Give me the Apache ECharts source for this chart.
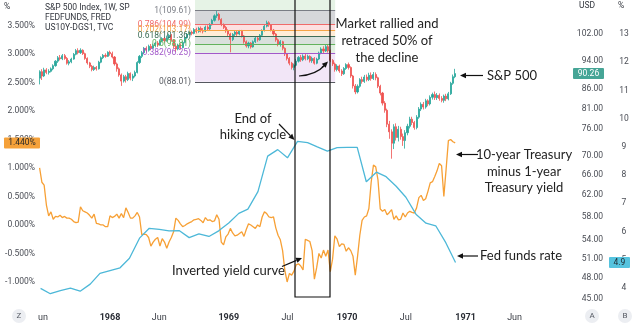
<!DOCTYPE html>
<html>
<head>
<meta charset="utf-8">
<script src="https://cdn.jsdelivr.net/npm/echarts@6/dist/echarts.min.js"></script>
<style>
  html, body { margin: 0; padding: 0; background: #fff; }
  #main { width: 640px; height: 323px; }
</style>
</head>
<body>
<div id="main"></div>
<script>
// ---- S&P 500 weekly candles [open, close, low, high], first week starting 1967-05-29 ----
const spxWeekStart = [1967, 4, 29];
const spxOHLC = [
  [89.0,90.8,87.3,91.2],[90.8,89.6,88.5,91.5],[89.6,91.3,89.3,91.9],[91.3,90.6,90.1,91.8],[90.6,90.9,90.0,91.5],
  [90.9,91.6,90.6,92.0],[91.6,92.5,91.2,92.9],[92.5,93.8,92.2,94.1],[93.8,94.8,93.3,95.3],[94.8,94.5,94.0,95.6],
  [94.5,95.4,94.1,95.9],[95.4,94.6,94.2,95.9],[94.6,93.2,92.8,95.0],[93.2,93.6,92.6,94.1],[93.6,94.4,93.2,94.8],
  [94.4,95.8,94.2,96.2],[95.8,96.9,95.5,97.4],[96.9,96.3,95.8,97.6],[96.3,97.0,95.9,97.6],[97.0,96.0,95.6,97.3],
  [96.0,94.6,94.2,96.3],[94.6,93.3,92.8,94.9],[93.3,92.3,91.8,93.6],[92.3,91.4,90.9,92.7],[91.4,92.0,91.0,92.5],
  [92.0,91.6,91.1,92.4],[91.6,93.5,91.4,93.9],[93.5,94.8,93.2,95.2],[94.8,95.5,94.4,95.9],[95.5,95.2,94.8,96.1],
  [95.2,96.4,95.0,96.7],[96.4,96.0,95.4,96.9],[96.0,95.0,94.6,96.6],[95.0,93.0,92.5,95.3],[93.0,91.6,90.8,93.4],
  [91.6,89.9,89.4,92.0],[89.9,88.2,86.9,90.3],[88.2,89.4,87.8,89.9],[89.4,88.6,87.8,89.9],[88.6,90.3,88.2,90.8],
  [90.3,89.0,88.4,90.6],[89.0,89.6,88.2,90.2],[89.6,90.6,89.2,91.1],[90.6,93.4,90.3,93.8],[93.4,95.2,93.0,95.6],
  [95.2,96.3,94.7,96.8],[96.3,97.6,95.9,98.0],[97.6,97.0,96.3,98.2],[97.0,98.2,96.6,98.7],[98.2,97.6,97.0,98.9],
  [97.6,98.4,97.3,99.0],[98.4,99.2,97.9,99.6],[99.2,98.6,98.0,99.8],[98.6,99.8,98.4,100.3],[99.8,100.6,99.4,101.0],
  [100.6,99.9,99.3,101.1],[99.9,100.9,99.6,101.5],[100.9,101.6,100.4,102.1],[101.6,100.1,99.6,102.0],[100.1,98.2,97.6,100.4],
  [98.2,97.4,96.5,98.7],[97.4,98.6,97.0,99.0],[98.6,97.8,97.2,99.1],[97.8,99.4,97.6,99.8],[99.4,100.8,99.1,101.2],
  [100.8,101.9,100.5,102.3],[101.9,102.6,101.5,103.0],[102.6,102.2,101.6,103.1],[102.2,103.4,101.9,103.9],[103.4,102.8,102.2,104.0],
  [102.8,103.8,102.4,104.3],[103.8,103.1,102.5,104.4],[103.1,102.9,102.2,103.9],[102.9,104.2,102.6,104.7],[104.2,103.6,103.0,104.8],
  [103.6,105.0,103.3,105.5],[105.0,106.4,104.7,106.9],[106.4,107.9,106.0,108.4],[107.9,108.4,107.2,109.6],[108.4,106.7,106.3,108.9],
  [106.7,105.0,104.5,107.1],[105.0,104.1,103.6,105.4],[104.1,103.0,102.4,104.6],[103.0,102.0,101.3,103.5],[102.0,100.3,96.4,102.4],
  [100.3,101.9,99.8,102.3],[101.9,102.6,101.2,103.1],[102.6,102.0,101.4,103.0],[102.0,102.9,101.6,103.3],[102.9,101.4,100.9,103.3],
  [101.4,99.6,99.0,101.7],[99.6,98.3,97.8,100.0],[98.3,99.2,97.6,99.6],[99.2,98.0,97.5,99.5],[98.0,99.6,97.8,100.0],
  [99.6,100.7,99.2,101.1],[100.7,100.2,99.6,101.2],[100.2,101.6,99.9,102.0],[101.6,103.1,101.2,103.5],[103.1,104.5,102.8,104.9],
  [104.5,105.6,104.1,106.3],[105.6,104.9,104.3,106.1],[104.9,103.2,102.8,105.2],[103.2,102.0,101.5,103.6],[102.0,100.2,99.6,102.3],
  [100.2,98.8,98.2,100.6],[98.8,99.6,98.1,100.1],[99.6,97.6,97.0,99.9],[97.6,95.9,95.3,97.9],[95.9,94.6,94.0,96.2],
  [94.6,93.2,92.6,95.0],[93.2,92.0,91.4,93.6],[92.0,92.6,91.2,93.1],[92.6,93.8,92.3,94.4],[93.8,94.9,93.4,95.3],
  [94.9,94.2,93.6,95.6],[94.2,95.3,93.8,95.8],[95.3,94.5,94.0,95.9],[94.5,95.2,94.1,95.7],[95.2,93.9,93.4,95.5],
  [93.9,94.6,93.3,95.1],[94.6,93.2,92.8,95.0],[93.2,94.4,92.9,94.8],[94.4,96.2,94.1,96.6],[96.2,97.4,95.8,97.9],
  [97.4,96.8,96.2,98.2],[96.8,98.1,96.5,98.8],[98.1,96.9,96.3,98.7],[96.9,94.0,93.5,97.2],[94.0,93.0,92.4,94.4],
  [93.0,91.4,90.8,93.4],[91.4,92.4,90.9,92.9],[92.4,91.0,90.5,92.8],[91.0,90.2,89.6,91.5],[90.2,91.7,89.9,92.1],
  [91.7,92.8,91.3,93.2],[92.8,92.0,91.4,93.4],[92.0,89.6,89.1,92.3],[89.6,86.9,86.2,89.9],[86.9,85.3,84.7,87.4],
  [85.3,86.8,84.9,87.3],[86.8,88.6,86.4,89.0],[88.6,88.1,87.5,89.4],[88.1,89.3,87.7,89.9],[89.3,88.6,88.1,90.0],
  [88.6,89.8,88.2,90.5],[89.8,88.9,88.3,90.6],[88.9,90.0,88.5,90.7],[90.0,89.1,88.4,90.6],[89.1,86.8,86.3,89.4],
  [86.8,85.0,84.4,87.2],[85.0,82.4,81.8,85.3],[82.4,80.6,80.0,82.9],[80.6,77.2,76.5,81.0],[77.2,75.4,73.8,78.0],
  [75.4,72.8,69.4,76.0],[72.8,76.6,71.5,77.2],[76.6,74.1,73.4,77.4],[74.1,76.0,73.2,76.8],[76.0,74.3,73.6,76.6],
  [74.3,73.4,72.2,75.0],[73.4,75.2,71.6,75.8],[75.2,76.7,74.6,77.3],[76.7,78.4,76.2,79.0],[78.4,77.6,77.0,79.0],
  [77.6,76.4,75.9,78.0],[76.4,78.9,76.0,79.4],[78.9,80.9,78.5,81.4],[80.9,82.1,80.4,82.6],[82.1,81.4,80.8,82.7],
  [81.4,83.0,81.0,83.5],[83.0,82.2,81.6,83.4],[82.2,83.9,81.8,84.4],[83.9,84.6,83.3,85.1],[84.6,83.8,83.2,85.4],
  [83.8,84.4,83.2,85.0],[84.4,83.6,83.0,84.9],[83.6,83.1,82.6,84.2],[83.1,84.2,82.5,84.6],[84.2,83.5,82.9,84.8],
  [83.5,84.8,83.1,85.3],[84.8,87.6,84.5,88.0],[87.6,89.4,87.2,90.0],[89.4,90.26,89.0,91.6]
];

// ---- 10-year minus 1-year Treasury spread (%), same weeks ----
const spread = [
  1.00,0.75,0.70,0.35,0.16,0.23,0.10,0.15,0.14,0.17,
  0.13,0.15,0.12,0.12,0.10,0.06,0.04,0.05,0.32,0.25,
  0.23,0.21,0.17,0.12,0.19,0.03,0.02,0.00,0.00,-0.03,
  -0.03,0.16,0.13,0.15,0.19,0.12,0.20,0.13,0.30,0.22,
  0.12,0.12,0.16,0.22,0.14,-0.17,-0.16,-0.17,-0.22,-0.37,
  -0.30,-0.25,-0.22,-0.37,-0.24,-0.30,-0.41,-0.30,-0.22,-0.12,
  0.12,0.08,0.02,-0.03,-0.01,0.02,0.04,0.06,0.09,0.10,
  0.11,0.08,0.04,0.13,0.08,0.09,0.06,0.07,0.18,0.10,
  -0.30,-0.35,-0.21,-0.16,-0.06,-0.14,-0.19,-0.18,-0.15,-0.12,
  -0.20,-0.08,0.02,0.00,-0.03,-0.06,0.00,-0.03,0.14,0.23,
  0.20,0.14,0.13,0.14,-0.05,-0.18,-0.26,-0.45,-0.80,-1.00,
  -0.85,-0.88,-0.81,-0.70,-0.68,-0.72,-0.79,-0.25,-0.27,-0.29,
  -0.45,-0.95,-0.75,-0.50,-0.58,-0.44,-0.55,-0.44,-0.82,-0.60,
  -0.19,-0.25,-0.38,-0.33,-0.34,-0.46,-0.40,-0.45,-0.55,-0.88,
  -0.55,-0.18,0.08,0.14,0.16,0.29,0.75,1.05,1.02,0.79,
  0.28,0.24,0.27,0.18,0.22,0.27,0.10,0.16,0.09,0.10,
  0.21,0.14,0.21,0.24,0.22,0.21,0.30,0.48,0.52,0.43,
  0.46,0.59,0.74,0.76,0.85,0.95,1.08,1.04,0.50,0.98,
  1.48,1.50,1.46,1.44
];

// ---- Effective federal funds rate (%), monthly from June 1967 ----
const fedStart = [1967, 5];
const fedFunds = [
  3.98,3.79,3.90,3.99,3.88,4.13,4.51,
  4.61,4.71,5.05,5.76,6.11,6.07,6.02,6.03,5.78,5.91,5.82,6.02,
  6.30,6.64,6.79,7.41,8.67,8.90,8.61,9.19,9.15,9.00,8.85,8.97,
  8.98,8.98,7.76,8.10,7.94,7.60,7.21,6.61,6.29,6.20,5.60,4.90
];

// ---- Fibonacci retracement levels on the S&P ----
const fibLevels = [1.618, 1, 0.786, 0.702, 0.618, 0.5, 0.382, 0];
const fibPrices = [122.96, 109.61, 104.99, 103.17, 101.36, 98.81, 96.25, 88.01];
const fibLineColors = ['#5aad55', '#7a7d85', '#f06a6a', '#f5a445', '#3e6e58', '#62b25c', '#a258c9', '#55585f'];
const fibFillColors = [
  'rgba(90,173,85,0.15)',   // 1.618 - 1
  'rgba(120,123,134,0.30)', // 1 - 0.786
  'rgba(242,70,80,0.17)',   // 0.786 - 0.702
  'rgba(255,160,40,0.19)',  // 0.702 - 0.618
  'rgba(110,135,120,0.26)', // 0.618 - 0.5
  'rgba(90,173,85,0.18)',   // 0.5 - 0.382
  'rgba(160,80,200,0.14)'   // 0.382 - 0
];
const fibFrom = [1968, 8, 19];
const fibTo = [1969, 10, 25];

// ---- Axis ticks ----
const xTickMonths = [[1967,5],[1968,0],[1968,5],[1969,0],[1969,6],[1970,0],[1970,6],[1971,0],[1971,5]];
const xRange = [[1967, 4, 21], [1971, 10, 25]];
const usdTicks = [45, 48, 51, 54, 58, 62, 66, 70, 76, 81, 86, 94, 102];
const spreadTicks = [-1, -0.5, 0, 0.5, 1, 1.5, 2, 2.5, 3, 3.5];
const fedTicks = [4, 5, 6, 7, 8, 9, 10, 11, 12, 13];
const monthNames = ['Jan','Feb','Mar','Apr','May','Jun','Jul','Aug','Sep','Oct','Nov','Dec'];

const ts = (y, m, d) => Date.UTC(y, m, d || 1);
// weekly and monthly timestamps
const weekTimes = spxOHLC.map((_, i) => ts(spxWeekStart[0], spxWeekStart[1], spxWeekStart[2] + 7 * i));
const fedTimes = fedFunds.map((_, i) => ts(fedStart[0], fedStart[1] + i, 1));

const candleData = spxOHLC.map((r, i) => [weekTimes[i], r[0], r[1], r[2], r[3]]);
const spreadData = spread.map((v, i) => [weekTimes[i], v]);
const fedData = fedFunds.map((v, i) => [fedTimes[i], v]);

const fibX0 = ts(fibFrom[0], fibFrom[1], fibFrom[2]);
const fibX1 = ts(fibTo[0], fibTo[1], fibTo[2]);
const fibAreas = [];
for (let k = 0; k < fibLevels.length - 1; k++) {
  fibAreas.push([
    { xAxis: fibX0, yAxis: fibPrices[k + 1], itemStyle: { color: fibFillColors[k] } },
    { xAxis: fibX1, yAxis: fibPrices[k] }
  ]);
}
const fibLines = fibLevels.map((lv, k) => [
  {
    xAxis: fibX0, yAxis: fibPrices[k],
    name: lv + '(' + fibPrices[k].toFixed(2) + ')',
    lineStyle: { color: fibLineColors[k] },
    label: { color: fibLineColors[k] }
  },
  { xAxis: fibX1, yAxis: fibPrices[k] }
]);

const axisFont = 'Roboto, "Liberation Sans", sans-serif';
const noLine = { show: false };

const chart = echarts.init(document.getElementById('main'), null, { renderer: 'canvas' });

chart.setOption({
  animation: false,
  backgroundColor: '#ffffff',
  grid: { left: 37, right: 68, top: 0, bottom: 18, containLabel: false, outerBoundsMode: 'none' },
  xAxis: {
    type: 'value',
    min: ts(xRange[0][0], xRange[0][1], xRange[0][2]),
    max: ts(xRange[1][0], xRange[1][1], xRange[1][2]),
    axisLine: noLine, axisTick: noLine, splitLine: noLine,
    axisLabel: {
      customValues: xTickMonths.map(m => ts(m[0], m[1], 1)),
      fontSize: 9, fontFamily: axisFont, color: '#3a3d45', margin: 8,
      hideOverlap: false,
      formatter: function (v) {
        const d = new Date(v);
        return d.getUTCMonth() === 0 ? '{yr|' + d.getUTCFullYear() + '}' : monthNames[d.getUTCMonth()];
      },
      rich: { yr: { fontSize: 9, fontWeight: 'bold', fontFamily: axisFont, color: '#2a2d35' } }
    }
  },
  yAxis: [
    {
      type: 'log', position: 'right', min: 44.17, max: 113.3,
      axisLine: noLine, axisTick: noLine, splitLine: noLine,
      axisLabel: {
        customValues: usdTicks, align: 'right', margin: 31,
        fontSize: 8.5, fontFamily: axisFont, color: '#4a4d55',
        formatter: v => Number(v).toFixed(2)
      }
    },
    {
      type: 'value', position: 'left', min: -1.404, max: 3.947,
      axisLine: noLine, axisTick: noLine, splitLine: noLine,
      axisLabel: {
        customValues: spreadTicks, margin: 2,
        fontSize: 8.5, fontFamily: axisFont, color: '#4a4d55',
        formatter: v => Number(v).toFixed(3) + '%'
      }
    },
    {
      type: 'value', position: 'right', offset: 0, min: 3.39, max: 14.206,
      axisLine: noLine, axisTick: noLine, splitLine: noLine,
      axisLabel: {
        customValues: fedTicks, align: 'center', margin: 52,
        fontSize: 8.5, fontFamily: axisFont, color: '#4a4d55'
      }
    }
  ],
  series: [
    {
      name: 'S&P 500',
      type: 'candlestick',
      xAxisIndex: 0, yAxisIndex: 0,
      data: candleData,
      encode: { x: 0, y: [1, 2, 3, 4] },
      barWidth: 1.6,
      silent: true,
      itemStyle: {
        color: '#26a69a', color0: '#ef5350',
        borderColor: '#26a69a', borderColor0: '#ef5350', borderWidth: 0.8
      },
      markArea: { silent: true, data: fibAreas, z: 1 },
      markLine: {
        silent: true,
        symbol: ['none', 'none'],
        lineStyle: { type: 'solid', width: 1.2 },
        label: {
          position: 'start', distance: 4, fontSize: 8.5, fontFamily: axisFont,
          formatter: p => p.name
        },
        data: fibLines
      },
      z: 3
    },
    {
      name: 'US10Y-DGS1',
      type: 'line',
      yAxisIndex: 1,
      data: spreadData,
      showSymbol: false, silent: true,
      lineStyle: { color: '#f7a035', width: 1.3 },
      z: 4
    },
    {
      name: 'FEDFUNDS',
      type: 'line',
      yAxisIndex: 2,
      data: fedData,
      showSymbol: false, silent: true,
      lineStyle: { color: '#4db8d8', width: 1.3 },
      z: 4
    }
  ]
});

// ---- annotations, price tags and headers ----
function arrow(x1, y1, x2, y2) {
  const a = Math.atan2(y2 - y1, x2 - x1), L = 6, W = 2.7;
  const bx = x2 - L * Math.cos(a), by = y2 - L * Math.sin(a);
  return [
    { type: 'line', z: 100, shape: { x1: x1, y1: y1, x2: bx, y2: by }, style: { stroke: '#111', lineWidth: 1.2 } },
    { type: 'polygon', z: 100, shape: { points: [[x2, y2], [bx - W * Math.sin(a), by + W * Math.cos(a)], [bx + W * Math.sin(a), by - W * Math.cos(a)]] }, style: { fill: '#111' } }
  ];
}
function note(x, y, text, align) {
  return { type: 'text', z: 100, x: x, y: y, style: { text: text, fontSize: 13, fontFamily: 'Lato, "Open Sans", sans-serif', fill: '#222', align: align || 'center', verticalAlign: 'middle' } };
}
function small(x, y, text, opts) {
  return { type: 'text', z: 100, x: x, y: y, style: Object.assign({ text: text, fontSize: 8.5, fontFamily: axisFont, fill: '#33363e', align: 'left', verticalAlign: 'middle' }, opts || {}) };
}
function tag(x, w, yc, text, bg, fg) {
  return [
    { type: 'rect', z: 110, shape: { x: x, y: yc - 5.5, width: w, height: 11, r: 1 }, style: { fill: bg } },
    { type: 'text', z: 111, x: x + w / 2, y: yc, style: { text: text, fontSize: 8.5, fontFamily: axisFont, fill: fg, align: 'center', verticalAlign: 'middle' } }
  ];
}
function badge(x, y, letter) {
  return [
    { type: 'circle', z: 120, shape: { cx: x, cy: y, r: 7 }, style: { fill: '#eceef2' } },
    { type: 'text', z: 121, x: x, y: y, style: { text: letter, fontSize: 8, fontFamily: axisFont, fill: '#555a63', align: 'center', verticalAlign: 'middle' } }
  ];
}

const lastClose = spxOHLC[spxOHLC.length - 1][1];
const lastSpread = spread[spread.length - 1];
const lastFed = fedFunds[fedFunds.length - 1];
const yClose = chart.convertToPixel({ yAxisIndex: 0 }, lastClose);
const ySpread = chart.convertToPixel({ yAxisIndex: 1 }, lastSpread);
const yFed = chart.convertToPixel({ yAxisIndex: 2 }, lastFed);

const g = [];
// highlighted window
g.push({ type: 'rect', z: 90, shape: { x: 295, y: -3, width: 35, height: 300 }, style: { fill: 'none', stroke: '#111', lineWidth: 1.2 } });
// curved arrow inside the window
g.push({ type: 'bezierCurve', z: 100, shape: { x1: 299, y1: 76, cpx1: 316, cpy1: 75, x2: 325, y2: 65 }, style: { stroke: '#111', lineWidth: 1.2, fill: 'none' } });
g.push.apply(g, arrow(322, 67.5, 328, 61.5));
g.push(note(387, 24, 'Market rallied and'));
g.push(note(387, 41, 'retraced 50% of'));
g.push(note(387, 58, 'the decline'));
g.push.apply(g, arrow(483, 75.5, 460, 75.5));
g.push(note(487, 75.5, 'S&P 500', 'left'));
g.push(note(253, 119, 'End of'));
g.push(note(253, 135, 'hiking cycle'));
g.push.apply(g, arrow(279, 124, 294.5, 140));
g.push(note(172, 271, 'Inverted yield curve', 'left'));
g.push.apply(g, arrow(282, 266.5, 302, 258));
g.push(note(524, 155, '10-year Treasury'));
g.push(note(524, 171.5, 'minus 1-year'));
g.push(note(524, 188, 'Treasury yield'));
g.push.apply(g, arrow(478, 154.5, 456, 154.5));
g.push(note(480, 256, 'Fed funds rate', 'left'));
g.push.apply(g, arrow(478, 256, 457, 256));
// header texts
g.push(small(4, 7, '%'));
g.push(small(45, 7.5, 'S&P 500 Index, 1W, SP'));
g.push(small(45, 17.5, 'FEDFUNDS, FRED'));
g.push(small(45, 27.5, 'US10Y-DGS1, TVC'));
g.push(small(579, 6, 'USD'));
g.push(small(618, 6, '%'));
// last value tags
g.push.apply(g, tag(573, 31, yClose, lastClose.toFixed(2), '#46a596', '#ffffff'));
g.push.apply(g, tag(4, 36, ySpread, lastSpread.toFixed(3) + '%', '#f5a13a', '#2a2a2a'));
g.push.apply(g, tag(609, 21, yFed, lastFed.toFixed(1), '#55c3de', '#1d2a30'));
// bottom strip: left margin cover and scale badges
g.push({ type: 'rect', z: 115, shape: { x: 0, y: 306, width: 38, height: 17 }, style: { fill: '#ffffff' } });
g.push.apply(g, badge(19, 316, 'Z'));
g.push.apply(g, badge(592, 316, 'A'));
g.push.apply(g, badge(625, 316, 'B'));

chart.setOption({ graphic: { elements: g } });
</script>
</body>
</html>
